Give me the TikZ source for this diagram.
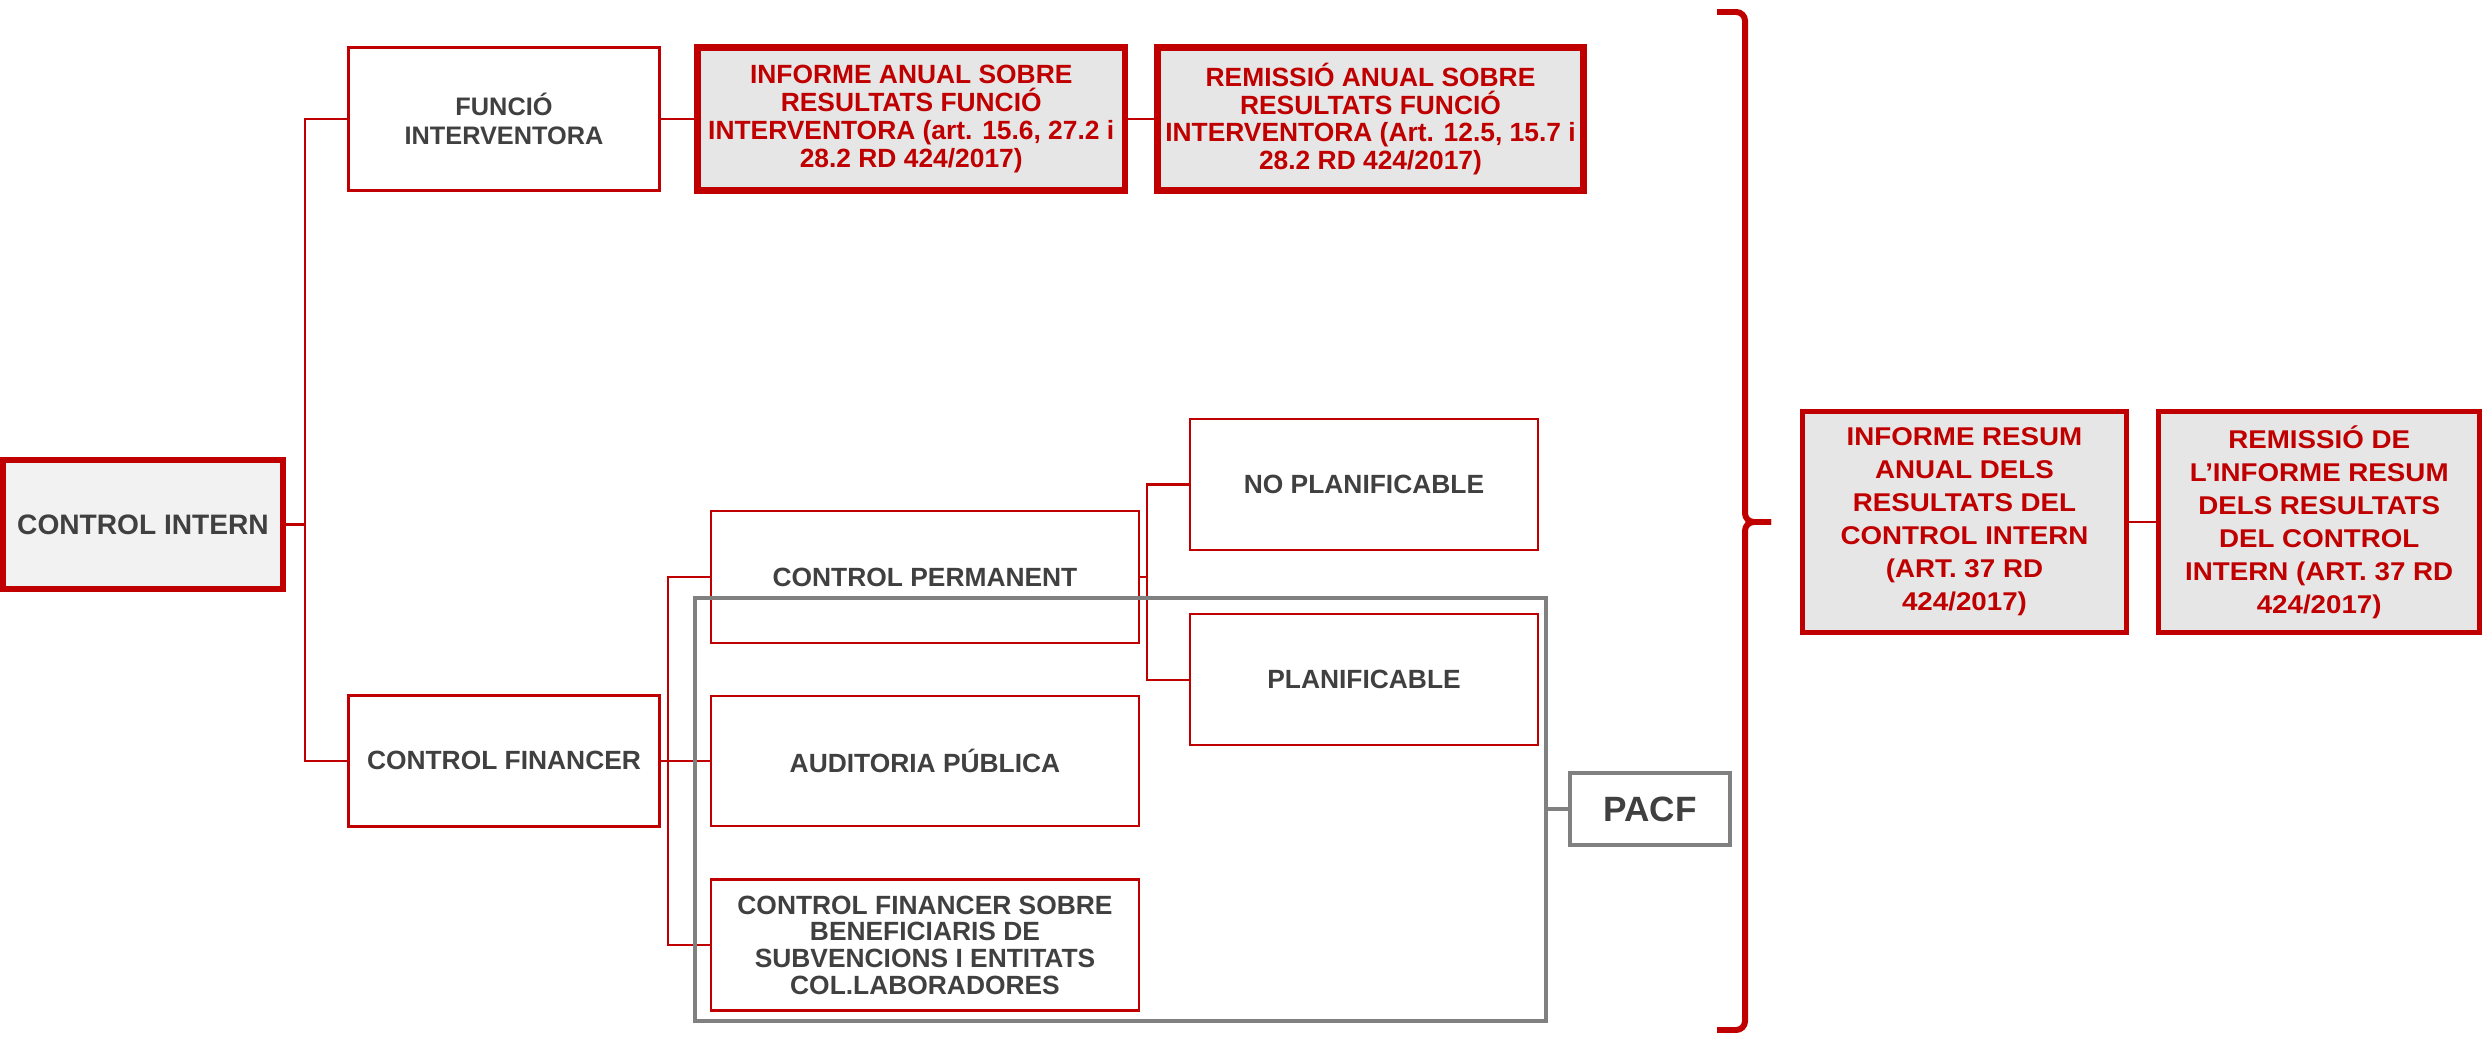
\documentclass[tikz,border=0pt]{standalone}
\usepackage{fontspec}
\setmainfont{Liberation Sans}
\newfontfamily\widefont[FakeStretch=1.08]{Liberation Sans}
\usetikzlibrary{positioning}

\definecolor{ctred}{HTML}{C00000}
\definecolor{txtgray}{HTML}{404040}
\definecolor{boxgray}{HTML}{E6E6E6}
\definecolor{rootgray}{HTML}{F2F2F2}
\definecolor{frgray}{HTML}{808080}

\tikzset{
  branch/.style={rectangle, draw=ctred, line width=0.75pt, text=txtgray, inner sep=0pt, align=center,
    font=\bfseries\fontsize{7.5}{7.9}\selectfont, minimum width=4.28cm, minimum height=1.31cm},
  root/.style={branch, line width=1.7pt, fill=rootgray, font=\bfseries\fontsize{8}{9}\selectfont},
  informe/.style={branch, line width=1.9pt, fill=boxgray, text=ctred, minimum height=1.43cm},
  resum/.style={branch, line width=1.4pt, fill=boxgray, text=ctred, minimum height=2.21cm,
    font=\widefont\bfseries\fontsize{7.3}{9.4}\selectfont},
  grup/.style={rectangle, draw=frgray, line width=1.1pt, inner sep=0pt},
  pacfbox/.style={grup, text=txtgray, font=\bfseries\fontsize{10}{12}\selectfont},
  link/.style={draw=ctred, line width=0.6pt},
  glink/.style={draw=frgray, line width=1.1pt},
  bracelink/.style={draw=ctred, line width=1.7pt, rounded corners=2.5pt}
}

\begin{document}
\begin{tikzpicture}[x=0.01cm, y=-0.01cm, on grid]
   \useasboundingbox (0,0) rectangle (2484,1037);

   \node[root, minimum width=2.8cm, minimum height=1.29cm] (intern) at (143,524.5) {CONTROL INTERN};

   \node[branch, minimum width=3.11cm, minimum height=1.43cm, font=\bfseries\fontsize{7.2}{8.2}\selectfont]
     (funcio) at (504,119) {FUNCIÓ\\INTERVENTORA};
   \node[informe, minimum width=4.27cm] (informe) [right=4.07cm of funcio]
     {INFORME ANUAL SOBRE\\RESULTATS FUNCIÓ\\INTERVENTORA (art. 15.6, 27.2 i\\28.2 RD 424/2017)};
   \node[informe, minimum width=4.26cm] (remanual) [right=4.59cm of informe]
     {REMISSIÓ ANUAL SOBRE\\RESULTATS FUNCIÓ\\INTERVENTORA (Art. 12.5, 15.7 i\\28.2 RD 424/2017)};

   \node[branch, minimum width=3.11cm] (financer) [below=6.415cm of funcio] {CONTROL FINANCER};
   \node[branch, minimum height=1.32cm] (permanent) at (925,577) {CONTROL PERMANENT};
   \node[branch, minimum height=1.30cm] (auditoria) [below=1.84cm of permanent] {AUDITORIA PÚBLICA};
   \node[branch, font=\bfseries\fontsize{7.5}{7.6}\selectfont] (cfs) [below=1.84cm of auditoria]
     {CONTROL FINANCER SOBRE\\BENEFICIARIS DE\\SUBVENCIONS I ENTITATS\\COL.LABORADORES};

   \node[branch, minimum width=3.48cm] (noplan) at (1364,484.5) {NO PLANIFICABLE};
   \node[branch, minimum width=3.48cm] (plan) [below=1.95cm of noplan] {PLANIFICABLE};

   \node[pacfbox, minimum width=1.6cm, minimum height=0.72cm] (pacf) at (1650,809) {PACF};

   \node[resum, minimum width=3.24cm] (resum) at (1964.5,522)
     {INFORME RESUM\\ANUAL DELS\\RESULTATS DEL\\CONTROL INTERN\\(ART. 37 RD\\424/2017)};
   \node[resum, minimum width=3.21cm] (remresum) [right=3.545cm of resum]
     {REMISSIÓ DE\\L’INFORME RESUM\\DELS RESULTATS\\DEL CONTROL\\INTERN (ART. 37 RD\\424/2017)};

   \draw[link] (funcio.west) -- ++(-42,0) coordinate (trunk) |- (financer.west);
   \draw[link] (intern.east) -- (intern.east -| trunk);
   \draw[link] (funcio.east) -- (informe.west);
   \draw[link] (informe.east) -- (remanual.west);

   \draw[link] (permanent.west) -- ++(-42,0) |- (cfs.west);
   \draw[link] (financer.east) -- (financer.east -| auditoria.west);
   \draw[link] (noplan.west) -- ++(-42,0) coordinate (pv) |- (plan.west);
   \draw[link] (permanent.east) -- (permanent.east -| pv);
   \draw[link] (resum.east) -- (remresum.west);

   \node[grup, minimum width=8.51cm, minimum height=4.23cm] (pacfgrup) at (1120.5,809.5) {};
   \draw[glink] (pacf.west) -- (pacf.west -| pacfgrup.east);

   \draw[bracelink] (1717,12) -- (1745,12) -- (1745,522) -- (1771,522);
   \draw[bracelink] (1771,522) -- (1745,522) -- (1745,1030) -- (1717,1030);
\end{tikzpicture}
\end{document}
